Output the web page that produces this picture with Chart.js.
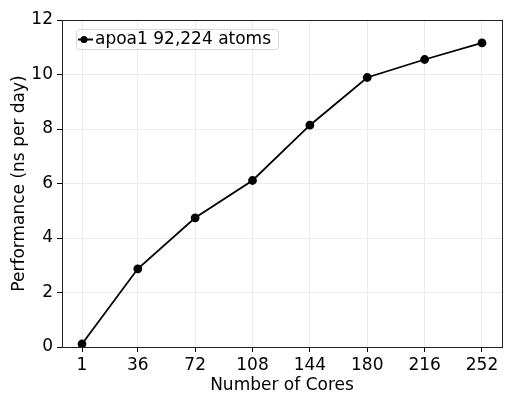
<!DOCTYPE html>
<html>
<head>
<meta charset="utf-8">
<script src="https://cdn.jsdelivr.net/npm/chart.js@4"></script>
<style>
  html, body { margin: 0; padding: 0; background: #fff; }
  #wrap { width: 513px; height: 397px; }
</style>
</head>
<body>
<div id="wrap"><canvas id="perf-chart"></canvas></div>
<script>
const cores = [1, 36, 72, 108, 144, 180, 216, 252];
const performance = [0.11, 2.87, 4.74, 6.11, 8.14, 9.89, 10.55, 11.16];
const yTicks = [0, 2, 4, 6, 8, 10, 12];
const seriesLabel = 'apoa1 92,224 atoms';

const FONT = 'DejaVu Sans';
const FS = 17;

// frame around the plot + matplotlib-style legend inside it
const framePlugin = {
    id: 'frame',
    afterDraw(chart) {
        const { ctx, chartArea: a } = chart;
        ctx.save();
        ctx.strokeStyle = '#222';
        ctx.lineWidth = 1;
        ctx.strokeRect(Math.round(a.left) + 0.5, Math.round(a.top) + 0.5,
            Math.round(a.right - a.left), Math.round(a.bottom - a.top));

        const x0 = a.left + 14, y0 = a.top + 9, h = 20;
        ctx.font = FS + 'px "' + FONT + '"';
        const label = chart.data.datasets[0].label;
        const w = 19 + ctx.measureText(label).width + 7;
        ctx.beginPath();
        ctx.roundRect(x0 + 0.5, y0 + 0.5, w, h, 3);
        ctx.fillStyle = 'rgba(255,255,255,0.8)';
        ctx.fill();
        ctx.strokeStyle = '#d6d6d6';
        ctx.stroke();

        const cy = y0 + h / 2 + 0.5;
        ctx.beginPath();
        ctx.moveTo(x0 + 2, cy);
        ctx.lineTo(x0 + 17, cy);
        ctx.strokeStyle = '#000';
        ctx.lineWidth = 2;
        ctx.stroke();
        ctx.beginPath();
        ctx.arc(x0 + 8, cy, 3.5, 0, Math.PI * 2);
        ctx.fillStyle = '#000';
        ctx.fill();

        ctx.fillStyle = '#000';
        ctx.textBaseline = 'middle';
        ctx.fillText(label, x0 + 19, cy);
        ctx.restore();
    },
};

new Chart(document.getElementById('perf-chart'), {
    type: 'line',
    data: {
        datasets: [
            {
                label: seriesLabel,
                data: cores.map((c, i) => ({ x: c, y: performance[i] })),
                borderColor: '#000',
                backgroundColor: '#000',
                borderWidth: 1.8,
                pointRadius: 3.5,
                pointHoverRadius: 3.5,
                tension: 0,
            },
        ],
    },
    options: {
        responsive: true,
        maintainAspectRatio: false,
        animation: false,
        layout: { padding: { top: 20, right: 11, left: 0, bottom: 0 } },
        plugins: {
            legend: { display: false },
            tooltip: { enabled: false },
        },
        scales: {
            x: {
                type: 'linear',
                min: -11.55,
                max: 264.55,
                afterBuildTicks(axis) {
                    axis.ticks = cores.map(v => ({ value: v }));
                },
                afterFit(axis) { axis.height = 50; },
                grid: {
                    color: '#ebebeb',
                    tickColor: '#000',
                    tickLength: 5,
                },
                border: { display: false },
                ticks: {
                    color: '#000',
                    padding: 3,
                    maxRotation: 0,
                    autoSkip: false,
                    font: { family: FONT, size: FS },
                },
                title: {
                    display: true,
                    text: 'Number of Cores',
                    color: '#000',
                    padding: { top: 0, bottom: 1 },
                    font: { family: FONT, size: FS },
                },
            },
            y: {
                min: 0,
                max: 12,
                afterBuildTicks(axis) {
                    axis.ticks = yTicks.map(v => ({ value: v }));
                },
                afterFit(axis) { axis.width = 62; },
                grid: {
                    color: '#ebebeb',
                    tickColor: '#000',
                    tickLength: 5,
                },
                border: { display: false },
                ticks: {
                    color: '#000',
                    padding: 4,
                    font: { family: FONT, size: FS },
                },
                title: {
                    display: true,
                    text: 'Performance (ns per day)',
                    color: '#000',
                    padding: { top: 9, bottom: 0 },
                    font: { family: FONT, size: FS },
                },
            },
        },
    },
    plugins: [framePlugin],
});
</script>
</body>
</html>
